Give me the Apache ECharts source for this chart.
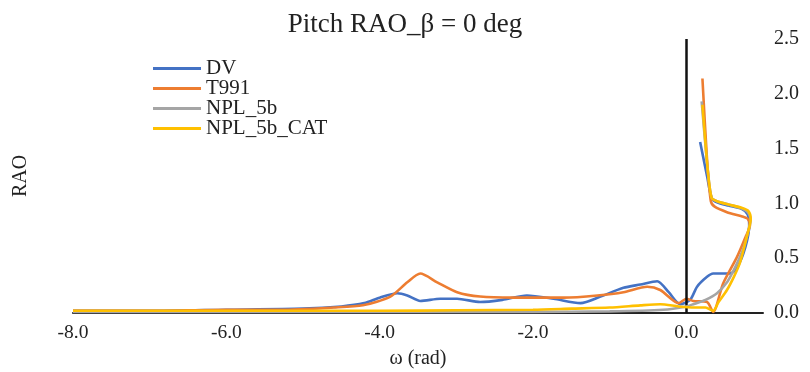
<!DOCTYPE html>
<html>
<head>
<meta charset="utf-8">
<script src="https://cdn.jsdelivr.net/npm/echarts@6/dist/echarts.min.js"></script>
<style>html,body{margin:0;padding:0;background:#fff}#c{width:810px;height:372px}</style>
</head>
<body>
<div id="c"></div>
<script>
var seriesNames = ['DV', 'T991', 'NPL_5b', 'NPL_5b_CAT'];
var xTicks = [-8, -6, -4, -2, 0];
var yTicks = [0, 0.5, 1.0, 1.5, 2.0, 2.5];

var dvX = [-8, -7, -6, -5, -4.5, -4.2, -4.0, -3.77, -3.64, -3.47, -3.21, -2.99, -2.69, -2.4, -2.08, -1.73, -1.38, -1.12, -0.82, -0.6, -0.38, -0.23, -0.08, 0.05, 0.14, 0.27, 0.35, 0.57, 0.66, 0.77, 0.82, 0.8, 0.72, 0.55, 0.4, 0.33, 0.27, 0.18];
var dvY = [0.02, 0.02, 0.03, 0.04, 0.06, 0.09, 0.14, 0.18, 0.16, 0.11, 0.13, 0.13, 0.10, 0.12, 0.16, 0.13, 0.09, 0.15, 0.23, 0.26, 0.29, 0.19, 0.08, 0.12, 0.24, 0.33, 0.36, 0.36, 0.41, 0.6, 0.8, 0.9, 0.95, 0.98, 1.01, 1.05, 1.25, 1.56];

var t991X = [-8, -7, -6, -5.3, -4.6, -4.22, -3.86, -3.64, -3.47, -3.25, -2.99, -2.69, -2.26, -1.6, -1.16, -0.82, -0.51, -0.34, -0.1, 0.0, 0.09, 0.27, 0.35, 0.48, 0.66, 0.77, 0.83, 0.8, 0.73, 0.53, 0.37, 0.32, 0.27, 0.21];
var t991Y = [0.02, 0.02, 0.03, 0.03, 0.05, 0.07, 0.15, 0.28, 0.36, 0.28, 0.19, 0.15, 0.14, 0.14, 0.16, 0.19, 0.24, 0.21, 0.09, 0.13, 0.11, 0.10, 0.01, 0.27, 0.51, 0.69, 0.8, 0.86, 0.88, 0.92, 0.97, 1.02, 1.4, 2.14];

var nplX = [-8, -6, -4, -2, -1, -0.3, 0, 0.09, 0.25, 0.4, 0.53, 0.61, 0.68, 0.75, 0.81, 0.84, 0.8, 0.7, 0.55, 0.4, 0.33, 0.28, 0.2];
var nplY = [0.01, 0.01, 0.01, 0.01, 0.015, 0.03, 0.06, 0.08, 0.12, 0.18, 0.28, 0.38, 0.48, 0.6, 0.75, 0.85, 0.92, 0.96, 0.99, 1.02, 1.05, 1.3, 1.93];

var catX = [-8, -6, -4, -3, -2, -1.5, -1, -0.6, -0.34, -0.1, 0.1, 0.25, 0.35, 0.42, 0.53, 0.62, 0.7, 0.79, 0.84, 0.81, 0.72, 0.55, 0.4, 0.33, 0.28, 0.21];
var catY = [0.02, 0.02, 0.02, 0.025, 0.03, 0.04, 0.05, 0.07, 0.08, 0.06, 0.05, 0.05, 0.02, 0.1, 0.21, 0.33, 0.46, 0.7, 0.86, 0.93, 0.96, 0.99, 1.02, 1.05, 1.3, 1.9];

var colors = ['#4472C4', '#ED7D31', '#A5A5A5', '#FFC000'];
var xs = [dvX, t991X, nplX, catX];
var ys = [dvY, t991Y, nplY, catY];

function pairs(a, b) { return a.map(function (v, i) { return [v, b[i]]; }); }

var font = 'Liberation Serif';
var series = seriesNames.map(function (n, i) {
  var s = {
    name: n, type: 'line', data: pairs(xs[i], ys[i]),
    showSymbol: false, symbol: 'none', smooth: 0.25,
    lineStyle: { width: 2.6, color: colors[i] }, itemStyle: { color: colors[i] },
    z: 3 + i
  };
  if (i === 0) {
    s.markLine = {
      silent: true, symbol: 'none', animation: false,
      label: { show: false },
      lineStyle: { color: '#111', width: 2.5, type: 'solid' },
      data: [{ xAxis: 0 }]
    };
  }
  return s;
});

var chart = echarts.init(document.getElementById('c'), null, { renderer: 'canvas' });
chart.setOption({
  animation: false,
  backgroundColor: '#fff',
  title: {
    text: 'Pitch RAO_\u03b2 = 0 deg', left: 'center', top: 6,
    textStyle: { fontFamily: font, fontSize: 27, fontWeight: 'normal', color: '#222' }
  },
  legend: {
    orient: 'vertical', left: 148, top: 53, icon: 'rect',
    itemWidth: 48, itemHeight: 3, itemGap: -1,
    textStyle: { fontFamily: font, fontSize: 21, color: '#222' },
    data: seriesNames
  },
  grid: { left: 73, right: 47, top: 39, bottom: 59, outerBoundsMode: 'none', containLabel: false },
  xAxis: {
    type: 'value', min: xTicks[0], max: 1, interval: 2,
    name: '\u03c9 (rad)', nameLocation: 'middle', nameGap: 36,
    nameTextStyle: { fontFamily: font, fontSize: 20, color: '#222' },
    axisLine: { show: true, onZero: false, lineStyle: { color: '#222', width: 2 } },
    axisTick: { show: false },
    splitLine: { show: false },
    axisLabel: {
      showMaxLabel: false, margin: 10,
      fontFamily: font, fontSize: 19.5, color: '#222',
      formatter: function (v) { return xTicks.indexOf(v) >= 0 ? v.toFixed(1) : ''; }
    }
  },
  yAxis: [{
    type: 'value', min: yTicks[0], max: yTicks[yTicks.length - 1], interval: 0.5,
    position: 'right',
    axisLine: { show: false }, axisTick: { show: false }, splitLine: { show: false },
    axisLabel: {
      margin: 11, fontFamily: font, fontSize: 20, color: '#222',
      formatter: function (v) { return v.toFixed(1); }
    }
  }, {
    type: 'value', min: 0, max: 2.5, position: 'left',
    name: 'RAO', nameLocation: 'middle', nameGap: 42, nameRotate: 90,
    nameTextStyle: { fontFamily: font, fontSize: 20, color: '#222' },
    axisLine: { show: false }, axisTick: { show: false }, splitLine: { show: false },
    axisLabel: { show: false }
  }],
  series: series
});
</script>
</body>
</html>
